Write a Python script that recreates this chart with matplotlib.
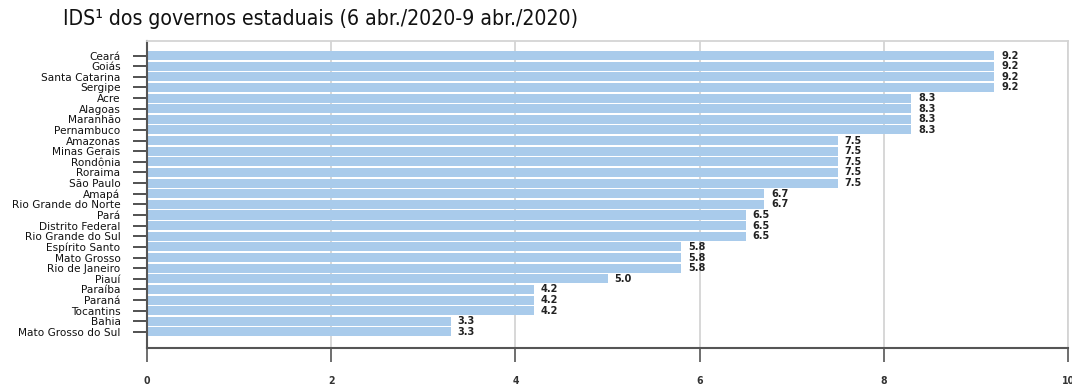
import matplotlib
matplotlib.use('Agg')
import matplotlib.pyplot as plt

# data
states = ['Ceará', 'Goiás', 'Santa Catarina', 'Sergipe', 'Acre', 'Alagoas',
          'Maranhão', 'Pernambuco', 'Amazonas', 'Minas Gerais', 'Rondônia',
          'Roraima', 'São Paulo', 'Amapá', 'Rio Grande do Norte', 'Pará',
          'Distrito Federal', 'Rio Grande do Sul', 'Espírito Santo',
          'Mato Grosso', 'Rio de Janeiro', 'Piauí', 'Paraíba', 'Paraná',
          'Tocantins', 'Bahia', 'Mato Grosso do Sul']
ids = [9.2, 9.2, 9.2, 9.2, 8.3, 8.3, 8.3, 8.3, 7.5, 7.5, 7.5, 7.5, 7.5,
       6.7, 6.7, 6.5, 6.5, 6.5, 5.8, 5.8, 5.8, 5.0, 4.2, 4.2, 4.2, 3.3, 3.3]
xticks = [0, 2, 4, 6, 8, 10]

plt.rcParams['font.family'] = ['DejaVu Sans']
plt.rcParams['font.stretch'] = 'condensed'

fig = plt.figure(figsize=(10.72, 3.89), dpi=100)
ax = fig.add_axes([0.1371, 0.1054, 0.8592, 0.7892])

ypos = list(range(len(states)))
ax.barh(ypos, ids, height=0.85, color='#a9cbeb', zorder=2)
for y, v in zip(ypos, ids):
    ax.annotate(f'{v:.1f}', (v, y), xytext=(5, 0), textcoords='offset points',
                va='center', ha='left', fontsize=7.8, color='#222222',
                fontweight='bold')

ax.set_xlim(0, 10)
ax.set_ylim(len(states) - 1 + 1.51, -1.37)
ax.set_xticks(xticks)
ax.set_xticklabels([str(t) for t in xticks], fontsize=7.5, fontweight='bold',
                   color='#333333')
ax.set_yticks(ypos)
ax.set_yticklabels(states, fontsize=7.6, color='#111111',
                   fontstretch='normal')
ax.tick_params(axis='x', length=10, width=1.2, color='#555555', pad=10)
ax.tick_params(axis='y', length=10, width=1.2, color='#333333', pad=9)

ax.grid(axis='x', color='#d4d4d4', linewidth=1.3, zorder=0)
ax.set_axisbelow(True)
for side in ['left', 'bottom']:
    ax.spines[side].set_color('#555555')
    ax.spines[side].set_linewidth(1.5)
for side in ['top', 'right']:
    ax.spines[side].set_color('#d4d4d4')
    ax.spines[side].set_linewidth(1.3)

fig.text(0.059, 0.952, 'IDS¹ dos governos estaduais (6 abr./2020-9 abr./2020)',
         fontsize=15.2, color='#111111', va='center', ha='left')

plt.savefig('out.png', dpi=100)
